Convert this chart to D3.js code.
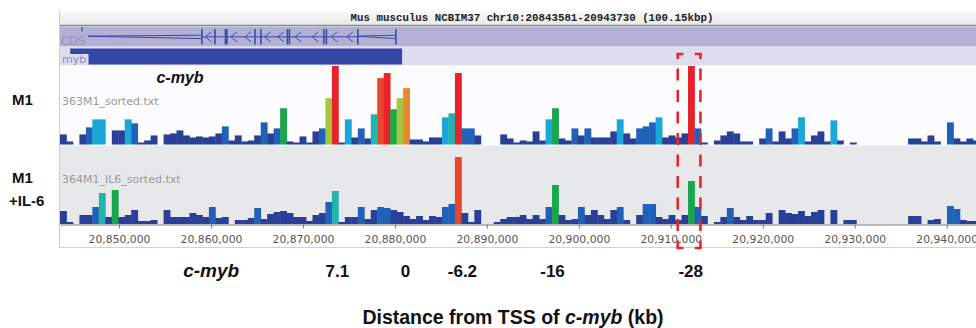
<!DOCTYPE html>
<html>
<head>
<meta charset="utf-8">
<script src="https://cdn.jsdelivr.net/npm/d3@7"></script>
<style>
  body { margin: 0; background: #fff; }
  svg { display: block; }
</style>
</head>
<body>
<svg id="chart"></svg>
<script>
// genomic window shown in the browser view
const regionStart = 20843581;
const regionEnd = 20943730;
const binSize = 704;

// coverage per bin (one value per 704 bp bin, starting at regionStart)
const m1Values = [
  10, 3, 0, 10, 17, 25, 25, 0, 14, 14,
  25, 21, 2, 4, 9, 0, 10, 11, 14, 9,
  7, 8, 7, 8, 11, 18, 4, 9, 3, 4,
  9, 22, 11, 16, 36, 3, 2, 8, 2, 13,
  16, 46, 78, 2, 25, 7, 16, 6, 30, 66,
  71, 35, 46, 56, 5, 5, 3, 7, 7, 27,
  31, 71, 16, 16, 9, 0, 0, 0, 10, 6,
  2, 4, 3, 13, 4, 25, 36, 6, 4, 16,
  9, 16, 7, 7, 7, 13, 25, 11, 6, 16,
  18, 22, 27, 7, 9, 7, 11, 78, 16, 2,
  0, 4, 9, 13, 11, 3, 3, 0, 6, 16,
  3, 13, 6, 16, 27, 3, 9, 13, 3, 24,
  4, 0, 2, 0, 0, 0, 0, 0, 0, 0,
  0, 6, 6, 3, 9, 3, 0, 22, 6, 3,
  6, 4
];
const il6Values = [
  13, 2, 0, 9, 9, 17, 31, 7, 34, 7,
  9, 14, 3, 3, 4, 0, 14, 7, 7, 7,
  11, 9, 7, 17, 6, 7, 0, 4, 4, 6,
  16, 5, 10, 12, 13, 11, 7, 7, 3, 9,
  11, 22, 33, 2, 7, 7, 17, 5, 14, 17,
  16, 14, 12, 8, 5, 8, 4, 8, 7, 17,
  20, 67, 11, 2, 14, 0, 0, 2, 5, 7,
  7, 9, 5, 9, 5, 17, 39, 9, 4, 5,
  17, 9, 14, 9, 5, 14, 17, 4, 0, 9,
  20, 20, 7, 5, 9, 4, 9, 43, 17, 8,
  0, 2, 7, 16, 7, 4, 8, 4, 4, 11,
  0, 14, 11, 10, 13, 8, 12, 14, 0, 14,
  0, 4, 4, 0, 0, 0, 0, 0, 0, 0,
  0, 8, 8, 0, 4, 5, 0, 18, 15, 4,
  3, 3
];
const m1Max = 78;
const il6Max = 67;

const axisTicks = [20850000, 20860000, 20870000, 20880000, 20890000,
  20900000, 20910000, 20920000, 20930000, 20940000];

// gene model (minus strand)
const geneStart = 20846620;
const geneEnd = 20880103;
const exonPositions = [20859016, 20860429, 20861570, 20861733, 20864777, 20865429,
  20868309, 20868527, 20872277, 20872548, 20875972];
const utrMark = 20845970;
const mybBar = [20844690, 20880780];

// distance labels under the axis
const distanceLabels = ['c-myb', '7.1', '0', '-6.2', '-16', '-28'];
const distancePositions = [20860020, 20873740, 20881140, 20887340, 20897140, 20912160];
const highlightRegion = [20910755, 20913222];

const width = 976, height = 328;
const svg = d3.select('#chart').attr('width', width).attr('height', height);

const x = d3.scaleLinear().domain([regionStart, regionEnd]).range([60, 981]);

const color = d3.scaleThreshold()
  .domain([15, 23.5, 28.5, 33.5, 45, 52, 63, 69])
  .range(['#2a3f98', '#1f62b8', '#1ca7da', '#22b5ad', '#19a64c',
          '#a6c63d', '#e78a2d', '#e8462d', '#e6232b']);

const panelLeft = 59.5;

// header
const grad = svg.append('defs').append('linearGradient')
  .attr('id', 'hdr').attr('x1', 0).attr('x2', 0).attr('y1', 0).attr('y2', 1);
grad.append('stop').attr('offset', '0%').attr('stop-color', '#fbfbfb');
grad.append('stop').attr('offset', '100%').attr('stop-color', '#e9e9e9');

svg.append('rect').attr('x', panelLeft).attr('y', 10).attr('width', width - panelLeft)
  .attr('height', 15).attr('fill', 'url(#hdr)');
svg.append('line').attr('x1', panelLeft).attr('x2', width).attr('y1', 25.5).attr('y2', 25.5)
  .attr('stroke', '#8a8a8a').attr('stroke-width', 1.5);
svg.append('text')
  .attr('x', 532).attr('y', 21)
  .attr('text-anchor', 'middle')
  .attr('font-family', '"Liberation Mono", "DejaVu Sans Mono", monospace')
  .attr('font-weight', 'bold')
  .attr('font-size', 10.8)
  .attr('fill', '#222')
  .text(`Mus musculus NCBIM37 chr10:${regionStart}-${regionEnd} (${((regionEnd - regionStart + 1) / 1000).toFixed(2)}kbp)`);

// CDS track
svg.append('rect').attr('x', panelLeft).attr('y', 26.5).attr('width', width - panelLeft)
  .attr('height', 20).attr('fill', '#b3b0d6');
// myb track
svg.append('rect').attr('x', panelLeft).attr('y', 46.5).attr('width', width - panelLeft)
  .attr('height', 19).attr('fill', '#dedcef');
// data tracks
svg.append('rect').attr('x', panelLeft).attr('y', 65.5).attr('width', width - panelLeft)
  .attr('height', 79).attr('fill', '#fcfcfe');
svg.append('rect').attr('x', panelLeft).attr('y', 145.5).attr('width', width - panelLeft)
  .attr('height', 79).attr('fill', '#e7e8e9');
// axis area
svg.append('rect').attr('x', panelLeft).attr('y', 225).attr('width', width - panelLeft)
  .attr('height', 22.5).attr('fill', '#fff');
svg.append('line').attr('x1', panelLeft).attr('x2', width).attr('y1', 247.5).attr('y2', 247.5)
  .attr('stroke', '#d2d2d2');
svg.append('line').attr('x1', panelLeft).attr('x2', panelLeft).attr('y1', 10).attr('y2', 248)
  .attr('stroke', '#cfcfcf');

// gene structure
const gene = svg.append('g').attr('stroke', '#3b4aa6').attr('fill', 'none').attr('stroke-width', 1);
const cy = 36.8;
const exons = exonPositions.map(x);
gene.append('line').attr('x1', x(utrMark)).attr('x2', x(utrMark)).attr('y1', 27).attr('y2', 31.5)
  .attr('stroke-width', 1.3);
// first and last introns drawn as stretched wedges
[[x(geneStart), exons[0]], [exons[exons.length - 1], x(geneEnd)]].forEach(([a, b]) => {
  gene.append('path').attr('d', `M${b},${cy - 1.6}L${a},${cy - 0.6}L${b},${cy + 1.8}`);
});
for (let i = 0; i < exons.length - 1; i++) {
  const a = exons[i], b = exons[i + 1];
  gene.append('line').attr('x1', a).attr('x2', b).attr('y1', cy).attr('y2', cy);
  const n = Math.floor((b - a) / 12);
  for (let k = 0; k < n; k++) {
    const tip = a + (b - a) * (k + 0.5) / n - 3;
    gene.append('path').attr('d', `M${tip + 6},${cy - 5}L${tip},${cy}L${tip + 6},${cy + 5}`);
  }
}
exons.concat([x(geneEnd)]).forEach(ex => {
  gene.append('line').attr('x1', ex).attr('x2', ex).attr('y1', 29).attr('y2', 44.5)
    .attr('stroke-width', 1.6);
});
svg.append('text').attr('x', 61).attr('y', 44.5)
  .attr('font-family', '"DejaVu Sans", sans-serif').attr('font-size', 11.5)
  .attr('fill', '#9593bd').text('CDS');

// myb bar
svg.append('rect').attr('x', x(mybBar[0])).attr('y', 48.5)
  .attr('width', x(mybBar[1]) - x(mybBar[0])).attr('height', 16).attr('fill', '#3347a6');
svg.append('rect').attr('x', panelLeft + 0.5).attr('y', 54).attr('width', 28.5).attr('height', 11)
  .attr('fill', '#dedcef');
svg.append('text').attr('x', 62).attr('y', 63)
  .attr('font-family', '"DejaVu Sans", sans-serif').attr('font-size', 11)
  .attr('fill', '#8e8cb8').text('myb');

// coverage tracks
const binWidth = x(regionStart + binSize) - x(regionStart);
function drawTrack(values, base, top, vmax) {
  const y = d3.scaleLinear().domain([0, vmax]).range([base, top]);
  const bins = values.map((v, i) => ({ i, v })).filter(d => d.v > 0);
  svg.append('g').selectAll('rect')
    .data(bins)
    .join('rect')
    .attr('x', d => x(regionStart + d.i * binSize))
    .attr('width', binWidth + 0.4)
    .attr('y', d => y(d.v))
    .attr('height', d => base - y(d.v))
    .attr('fill', d => color(d.v));
}
drawTrack(m1Values, 144.5, 66, m1Max);
drawTrack(il6Values, 224, 157, il6Max);

const trackFont = '"DejaVu Sans", sans-serif';
svg.append('text').attr('x', 62).attr('y', 104.5)
  .attr('font-family', trackFont).attr('font-size', 11).attr('fill', '#999')
  .text('363M1_sorted.txt');
svg.append('text').attr('x', 62).attr('y', 182.5)
  .attr('font-family', trackFont).attr('font-size', 11).attr('fill', '#999')
  .text('364M1_IL6_sorted.txt');

// axis
const axis = d3.axisBottom(x)
  .tickValues(axisTicks)
  .tickFormat(d3.format(','))
  .tickSize(4)
  .tickSizeOuter(0)
  .tickPadding(7);
const axisG = svg.append('g').attr('transform', 'translate(0,224.5)').call(axis);
axisG.select('.domain').attr('stroke', '#7a7a7a');
axisG.selectAll('.tick line').attr('stroke', '#7a7a7a');
axisG.selectAll('.tick text')
  .attr('font-family', trackFont).attr('font-size', 10.8).attr('fill', '#555');

// annotations
const labelFont = '"Liberation Sans", Arial, sans-serif';
svg.append('text').attr('x', 180).attr('y', 83)
  .attr('text-anchor', 'middle').attr('font-family', labelFont)
  .attr('font-weight', 'bold').attr('font-style', 'italic').attr('font-size', 16)
  .attr('fill', '#111').text('c-myb');

svg.append('text').attr('x', 12).attr('y', 105)
  .attr('font-family', labelFont).attr('font-weight', 'bold').attr('font-size', 15)
  .attr('fill', '#111').text('M1');
svg.append('text').attr('x', 12).attr('y', 183)
  .attr('font-family', labelFont).attr('font-weight', 'bold').attr('font-size', 15)
  .attr('fill', '#111').text('M1');
svg.append('text').attr('x', 9).attr('y', 205.5)
  .attr('font-family', labelFont).attr('font-weight', 'bold').attr('font-size', 15)
  .attr('fill', '#111').text('+IL-6');

svg.append('g').selectAll('text')
  .data(distanceLabels)
  .join('text')
  .attr('x', (d, i) => x(distancePositions[i]))
  .attr('y', 277)
  .attr('text-anchor', 'middle')
  .attr('font-family', labelFont)
  .attr('font-weight', 'bold')
  .attr('font-style', (d, i) => i === 0 ? 'italic' : 'normal')
  .attr('font-size', (d, i) => i === 0 ? 19 : 17)
  .attr('fill', '#111')
  .text(d => d);

const title = svg.append('text').attr('x', 513).attr('y', 324)
  .attr('text-anchor', 'middle').attr('font-family', labelFont)
  .attr('font-weight', 'bold').attr('font-size', 19.5).attr('fill', '#111');
title.append('tspan').text('Distance from TSS of ');
title.append('tspan').attr('font-style', 'italic').text('c-myb');
title.append('tspan').text(' (kb)');

// dashed highlight box
const hx0 = x(highlightRegion[0]), hx1 = x(highlightRegion[1]);
const hy0 = 54, hy1 = 248;
const hl = svg.append('g').attr('stroke', '#e8262a').attr('stroke-width', 2.6).attr('fill', 'none');
[hx0, hx1].forEach(hx => {
  hl.append('line').attr('x1', hx).attr('x2', hx).attr('y1', hy0).attr('y2', hy1)
    .attr('stroke-dasharray', '12 9.5').attr('stroke-dashoffset', 7);
});
[hy0, hy1].forEach(hy => {
  const w = hx1 - hx0 + 2.6;
  hl.append('line').attr('x1', hx0 - 1.3).attr('x2', hx1 + 1.3).attr('y1', hy).attr('y2', hy)
    .attr('stroke-dasharray', `7 ${w - 14} 7`);
});
</script>
</body>
</html>
